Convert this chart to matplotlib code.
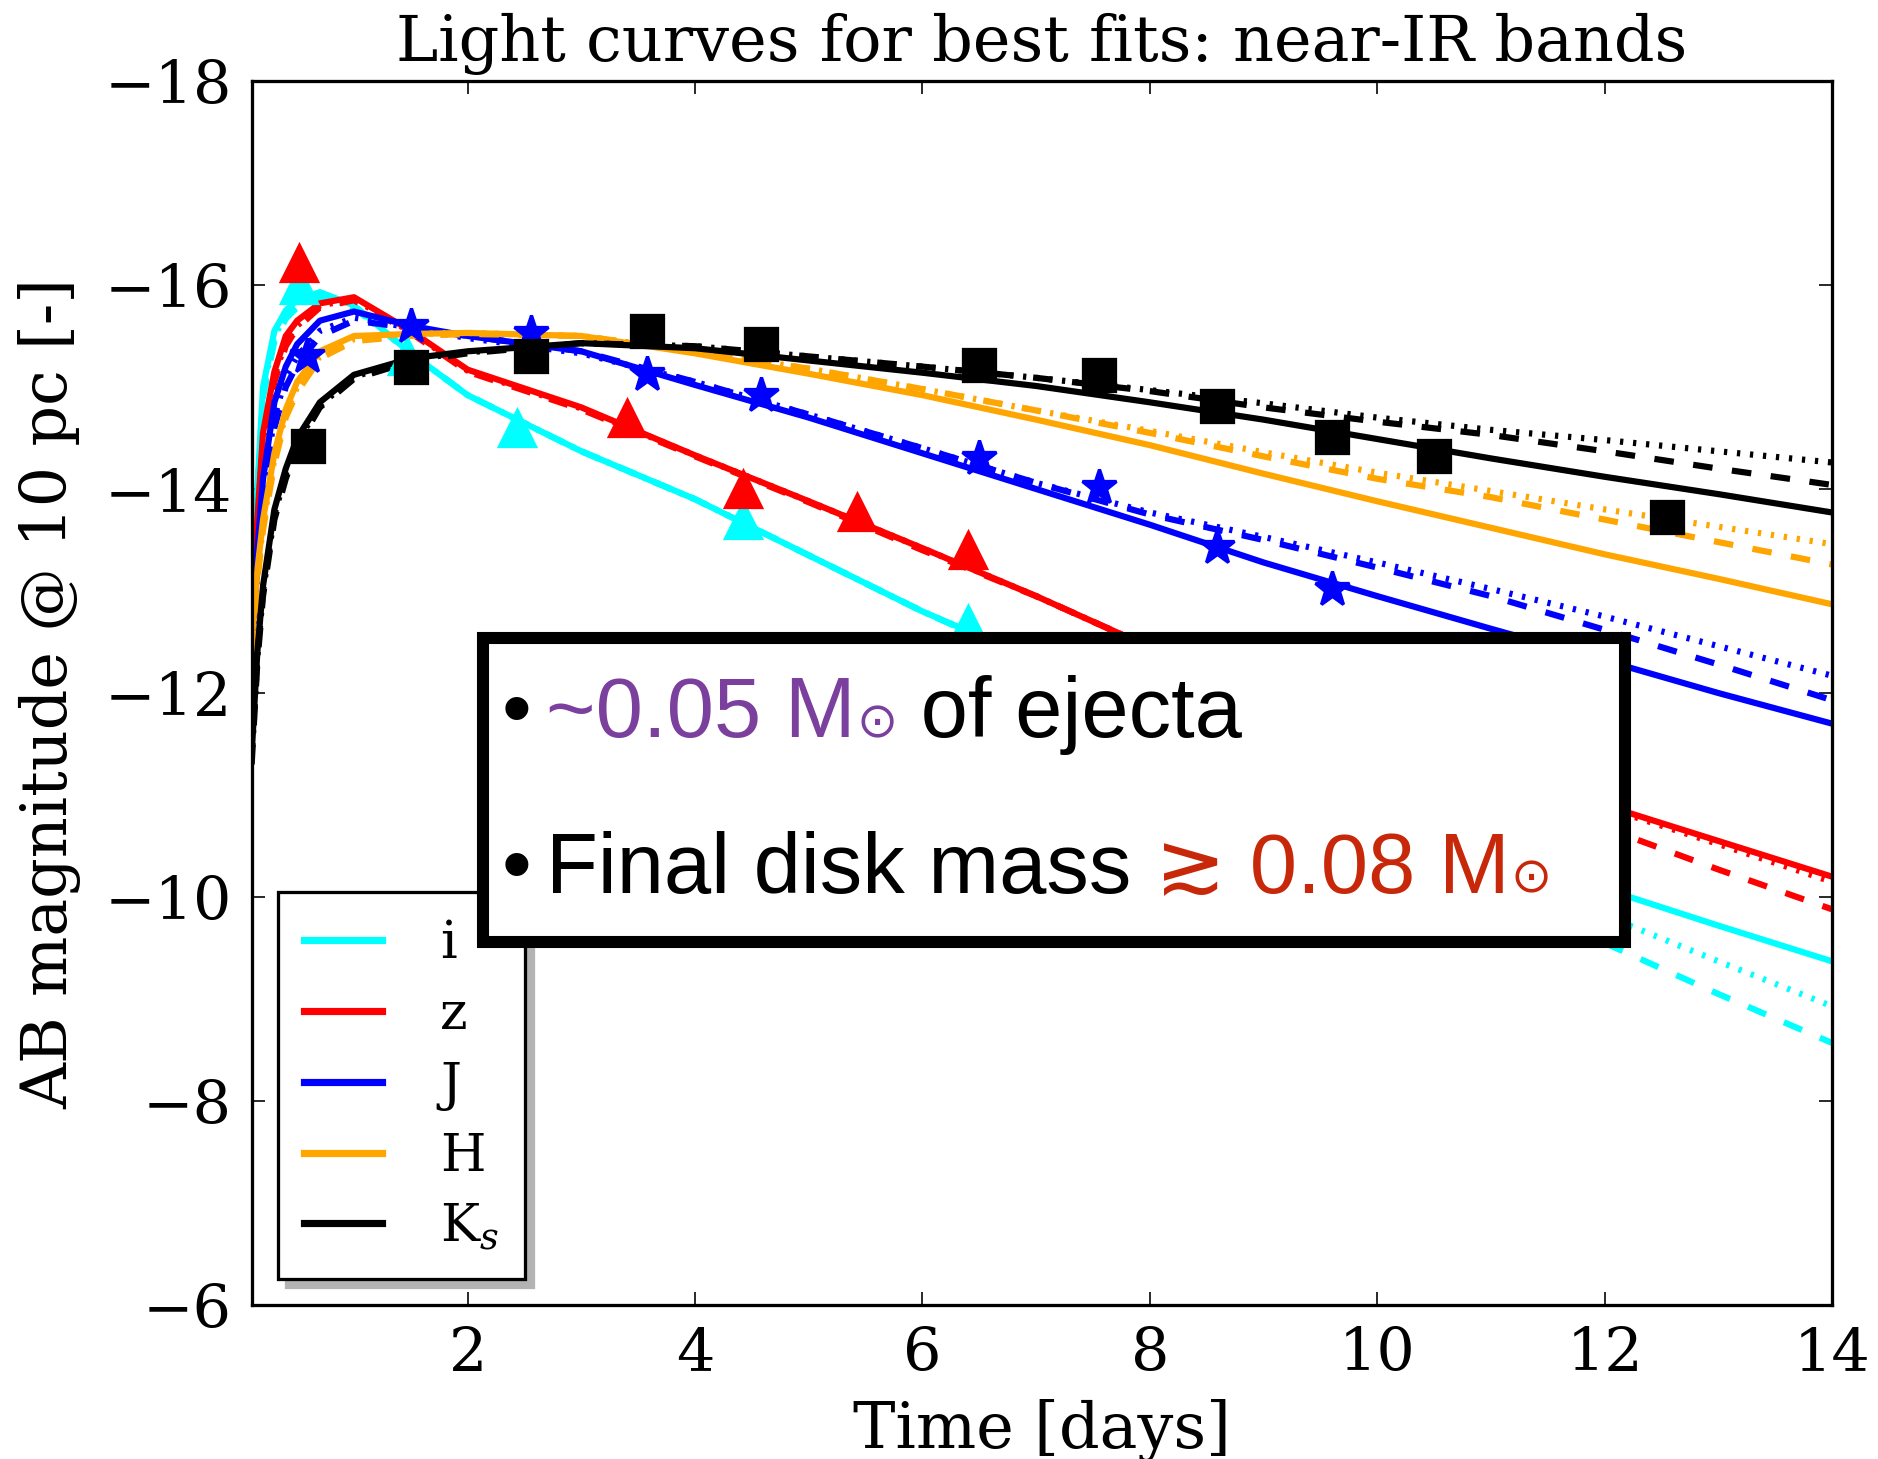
import matplotlib
matplotlib.use('Agg')
import matplotlib.pyplot as plt
from matplotlib.lines import Line2D
from matplotlib.patches import Rectangle
from matplotlib.offsetbox import TextArea, HPacker, AnchoredOffsetbox

# tiempos del modelo (dias)
T = [0.1, 0.15, 0.2, 0.3, 0.4, 0.5, 0.7, 1.0, 1.5, 2, 3, 4, 5, 6, 7, 8, 9, 10, 11, 12, 13, 14]

# curvas del modelo: solida, discontinua, punteada
i_solid = [-12.3, -14.0, -15.0, -15.55, -15.75, -15.85, -15.93, -15.8, -15.33, -14.92, -14.37, -13.9, -13.35, -12.8, -12.32, -11.86, -11.4, -10.95, -10.52, -10.08, -9.72, -9.37]
i_dash = [-12.2, -13.9, -14.9, -15.45, -15.67, -15.78, -15.88, -15.78, -15.33, -14.92, -14.37, -13.9, -13.35, -12.8, -12.3, -11.8, -11.25, -10.7, -10.12, -9.55, -9.05, -8.57]
i_dot = [-12.25, -13.95, -14.95, -15.5, -15.7, -15.8, -15.9, -15.78, -15.33, -14.92, -14.37, -13.9, -13.35, -12.8, -12.32, -11.85, -11.35, -10.83, -10.3, -9.82, -9.37, -8.93]

z_solid = [-12.4, -13.7, -14.55, -15.15, -15.5, -15.65, -15.82, -15.88, -15.55, -15.17, -14.8, -14.33, -13.88, -13.42, -12.95, -12.45, -12.05, -11.65, -11.27, -10.9, -10.55, -10.2]
z_dash = [-12.3, -13.6, -14.45, -15.05, -15.4, -15.58, -15.78, -15.85, -15.53, -15.15, -14.78, -14.32, -13.87, -13.4, -12.95, -12.45, -12.02, -11.6, -11.15, -10.68, -10.27, -9.88]
z_dot = [-12.35, -13.65, -14.5, -15.1, -15.45, -15.6, -15.8, -15.86, -15.54, -15.16, -14.79, -14.33, -13.88, -13.42, -12.95, -12.45, -12.05, -11.65, -11.27, -10.88, -10.52, -10.15]

J_solid = [-12.4, -13.4, -14.1, -14.85, -15.2, -15.42, -15.65, -15.74, -15.6, -15.5, -15.35, -15.02, -14.7, -14.35, -14.0, -13.65, -13.28, -12.95, -12.63, -12.32, -12.0, -11.7]
J_dash = [-12.3, -13.2, -13.9, -14.6, -15.0, -15.22, -15.5, -15.65, -15.58, -15.5, -15.35, -15.05, -14.73, -14.4, -14.06, -13.75, -13.5, -13.23, -12.95, -12.62, -12.28, -11.93]
J_dot = [-12.35, -13.3, -14.0, -14.7, -15.1, -15.3, -15.55, -15.68, -15.58, -15.48, -15.33, -15.05, -14.73, -14.4, -14.06, -13.77, -13.53, -13.28, -13.02, -12.75, -12.46, -12.17]

H_solid = [-12.5, -13.2, -13.7, -14.35, -14.78, -15.05, -15.35, -15.5, -15.52, -15.53, -15.5, -15.33, -15.13, -14.92, -14.68, -14.43, -14.15, -13.88, -13.62, -13.36, -13.12, -12.87]
H_dash = [-12.4, -13.1, -13.6, -14.25, -14.7, -14.95, -15.28, -15.45, -15.5, -15.52, -15.5, -15.35, -15.18, -14.98, -14.77, -14.55, -14.32, -14.1, -13.92, -13.7, -13.48, -13.26]
H_dot = [-12.45, -13.15, -13.65, -14.3, -14.74, -15.0, -15.3, -15.47, -15.52, -15.53, -15.5, -15.35, -15.18, -14.98, -14.77, -14.57, -14.36, -14.16, -13.98, -13.8, -13.63, -13.46]

Ks_solid = [-11.4, -12.4, -13.05, -13.8, -14.2, -14.5, -14.85, -15.12, -15.28, -15.35, -15.43, -15.38, -15.26, -15.14, -15.01, -14.85, -14.68, -14.49, -14.3, -14.12, -13.95, -13.77]
Ks_dash = [-11.3, -12.3, -12.95, -13.7, -14.1, -14.42, -14.8, -15.08, -15.25, -15.33, -15.43, -15.4, -15.3, -15.2, -15.09, -14.96, -14.8, -14.66, -14.53, -14.37, -14.2, -14.04]
Ks_dot = [-11.35, -12.35, -13.0, -13.75, -14.15, -14.46, -14.82, -15.1, -15.27, -15.34, -15.43, -15.4, -15.3, -15.2, -15.09, -14.97, -14.84, -14.7, -14.58, -14.48, -14.37, -14.26]

# observaciones
i_t = [0.52, 1.47, 2.43, 4.42, 6.4]
i_mag = [-16.0, -15.3, -14.6, -13.7, -12.68]
z_t = [0.52, 3.4, 4.42, 5.42, 6.4]
z_mag = [-16.22, -14.7, -14.0, -13.77, -13.4]
J_t = [0.59, 1.5, 2.56, 3.58, 4.58, 6.5, 7.55, 8.59, 9.6]
J_mag = [-15.3, -15.6, -15.53, -15.13, -14.92, -14.3, -14.02, -13.43, -13.02]
Ks_t = [0.6, 1.5, 2.56, 3.58, 4.58, 6.5, 7.55, 8.59, 9.6, 10.5, 12.55]
Ks_mag = [-14.42, -15.2, -15.3, -15.55, -15.42, -15.22, -15.12, -14.81, -14.51, -14.32, -13.73]

band_labels = ['i', 'z', 'J', 'H', r'K$_s$']
band_colors = ['cyan', 'red', 'blue', 'orange', 'black']

plt.rcParams['font.family'] = 'DejaVu Serif'
plt.rcParams['mathtext.fontset'] = 'dejavuserif'
plt.rcParams['lines.scale_dashes'] = False

fig = plt.figure(figsize=(1878 / 235, 1459 / 235), dpi=235)
ax = fig.add_axes([0.134, 0.1055, 0.8415, 0.839])

modelos = [(i_solid, i_dash, i_dot), (z_solid, z_dash, z_dot), (J_solid, J_dash, J_dot),
           (H_solid, H_dash, H_dot), (Ks_solid, Ks_dash, Ks_dot)]
for col, (ys, yd, yp) in zip(band_colors, modelos):
    ax.plot(T, ys, color=col, lw=1.9, ls='-')
    ax.plot(T, yd, color=col, lw=1.9, ls=(0, (6, 6)))
    ax.plot(T, yp, color=col, lw=1.9, ls=(0, (1, 3)))

ax.plot(i_t, i_mag, '^', color='cyan', mec='cyan', ms=11)
ax.plot(z_t, z_mag, '^', color='red', mec='red', ms=11)
ax.plot(J_t, J_mag, '*', color='blue', mec='blue', ms=11)
ax.plot(Ks_t, Ks_mag, 's', color='black', ms=10)

ax.set_xlim(0.1, 14)
ax.set_ylim(-6, -18)
ax.set_xticks([2, 4, 6, 8, 10, 12, 14])
ax.set_yticks([-18, -16, -14, -12, -10, -8, -6])
ax.tick_params(direction='in', length=4, width=0.5, top=True, right=True, labelsize=18.5, pad=6)
for s in ax.spines.values():
    s.set_linewidth(1.0)

ax.set_title('Light curves for best fits: near-IR bands', fontsize=19.5, pad=6)
ax.set_xlabel('Time [days]', fontsize=19.5, labelpad=5)
ax.set_ylabel('AB magnitude @ 10 pc [-]', fontsize=19.5, labelpad=7)

handles = [Line2D([], [], color=c, lw=2.2) for c in band_colors]
leg = ax.legend(handles, band_labels, loc='lower left', bbox_to_anchor=(0.0167, 0.0215),
                borderaxespad=0, fontsize=16, handlelength=1.5, handletextpad=1.1,
                labelspacing=0.38, borderpad=0.5, fancybox=False, framealpha=1,
                shadow={'ox': 2.5, 'oy': -2.5, 'facecolor': '0.7', 'edgecolor': '0.7', 'alpha': 1})
leg.get_frame().set_edgecolor('black')
leg.get_frame().set_linewidth(1.0)

# recuadro con el resumen
caja = Rectangle((0.1462, 0.2965), 0.7228, 0.2485, transform=ax.transAxes,
                 facecolor='white', edgecolor='black', lw=3.7, zorder=10)
ax.add_patch(caja)

fam = ['Liberation Sans', 'DejaVu Sans']
morado = '#7b3f9e'
rojo = '#c8280a'

def trozo(s, color='black', size=26):
    return TextArea(s, textprops=dict(color=color, fontsize=size, family=fam))

linea1 = HPacker(children=[trozo('\u2022'), trozo(' ', size=17), trozo('~0.05 M', morado),
                           trozo('\u2299', morado, 15), trozo(' of ejecta')],
                 align='baseline', pad=0, sep=0)
linea2 = HPacker(children=[trozo('\u2022'), trozo(' ', size=17), trozo('Final disk mass '),
                           trozo('\u2273 0.08 M', rojo), trozo('\u2299', rojo, 15)],
                 align='baseline', pad=0, sep=0)
for caja_txt, yy in [(linea1, 0.449), (linea2, 0.322)]:
    ab = AnchoredOffsetbox(loc='lower left', child=caja_txt, bbox_to_anchor=(0.158, yy),
                           bbox_transform=ax.transAxes, frameon=False, pad=0, borderpad=0)
    ab.set_zorder(11)
    ax.add_artist(ab)

plt.savefig('out.png', dpi=235)
